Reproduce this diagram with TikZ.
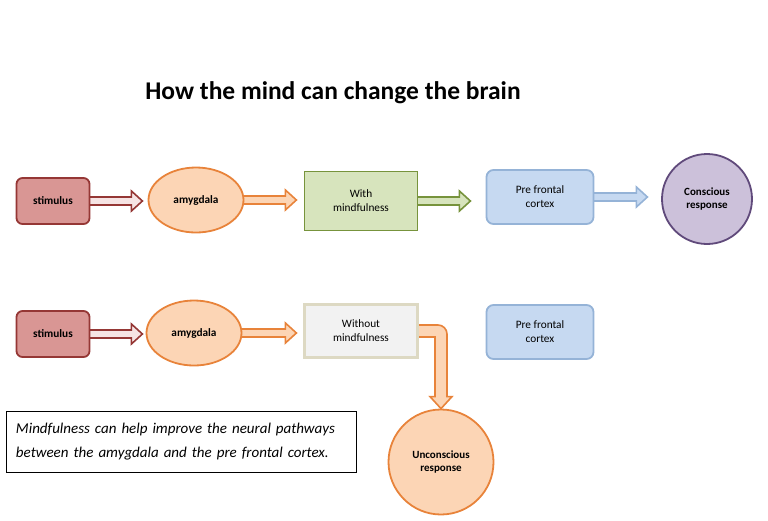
\documentclass[tikz,border=0pt]{standalone}
\usepackage{fontspec}
\setmainfont{Carlito}
\usetikzlibrary{shapes.geometric, calc, positioning, backgrounds}

\definecolor{stimfill}{HTML}{D99694}
\definecolor{stimline}{HTML}{953735}
\definecolor{stimpale}{HTML}{F6E4E4}
\definecolor{amyfill}{HTML}{FCD5B5}
\definecolor{amyline}{HTML}{E8833A}
\definecolor{withfill}{HTML}{D7E4BD}
\definecolor{withline}{HTML}{77933C}
\definecolor{pfcfill}{HTML}{C6D9F1}
\definecolor{pfcline}{HTML}{95B3D7}
\definecolor{consfill}{HTML}{CCC1DA}
\definecolor{consline}{HTML}{604A7B}
\definecolor{wofill}{HTML}{F2F2F2}
\definecolor{woline}{HTML}{DDD9C3}

% block arrow: style, start anchor, length
\newcommand{\blockarrow}[3]{%
  \draw[#1] ($(#2)+(-3,4)$) -- ($(#2)+(#3-11,4)$) -- ($(#2)+(#3-11,10)$)
    -- ($(#2)+(#3,0)$) -- ($(#2)+(#3-11,-10)$) -- ($(#2)+(#3-11,-4)$)
    -- ($(#2)+(-3,-4)$) -- cycle;}

\begin{document}
\begin{tikzpicture}[x=1pt, y=-1pt,
    stim/.style={rounded corners=6pt, fill=stimfill, draw=stimline,
      minimum width=73pt, minimum height=46pt},
    amyg/.style={ellipse, fill=amyfill, draw=amyline,
      minimum width=95pt, minimum height=65pt},
    pfc/.style={rounded corners=7pt, fill=pfcfill, draw=pfcline,
      minimum width=107pt, minimum height=54pt},
    resp/.style={circle, font=\fontsize{11}{13.5}\selectfont\bfseries}]
\useasboundingbox (0,0) rectangle (768,520);

\node[font=\fontsize{25.5}{30}\selectfont\bfseries] (title) at (333,93)
  {How the mind can change the brain};

\begin{scope}[every node/.style={draw, align=center, inner sep=0pt,
    line width=1.8pt, font=\fontsize{11.3}{14}\selectfont}]
    \node[stim] (s1) at (53,201) {\textbf{stimulus}};
    \node[amyg] (a1) at (196,200) {\textbf{amygdala}};
    \node[fill=withfill, draw=withline, minimum width=113pt,
      minimum height=59pt] (w1) at (361,201) {With\\mindfulness};
    \node[pfc] (p1) at (540,197) {Pre frontal\\cortex};
    \node[resp, fill=consfill, draw=consline, minimum size=90pt]
      (c1) at (707,199) {Conscious\\response};
    \node[stim] (s2) at (53,334) {\textbf{stimulus}};
    \node[amyg] (a2) at (194,333) {\textbf{amygdala}};
    \node[fill=wofill, draw=woline, line width=2.5pt, minimum width=113pt,
      minimum height=53pt] (w2) at (361,331) {Without\\mindfulness};
    \node[pfc] (p2) at (540,332) {Pre frontal\\cortex};
    \node[resp, fill=amyfill, draw=amyline, minimum size=105pt]
      (c2) at (441,462) {Unconscious\\response};
    \node[line width=0.8pt, align=left, inner xsep=10pt, inner ysep=0pt,
      text width=330pt, minimum height=61pt,
      font=\fontsize{15}{24}\selectfont\itshape] (note) at (181,442)
      {Mindfulness can help improve the neural pathways\\
       between the amygdala and the pre frontal cortex.};
\end{scope}

\begin{pgfonlayer}{background}
\begin{scope}[line width=1.6pt, line join=miter]
    \blockarrow{draw=stimline, fill=stimpale}{s1.east}{52}
    \blockarrow{draw=amyline, fill=amyfill}{a1.east}{52}
    \blockarrow{draw=withline, fill=withfill}{w1.east}{52}
    \blockarrow{draw=pfcline, fill=pfcfill}{p1.east}{53}
    \blockarrow{draw=stimline, fill=stimpale}{s2.east}{52}
    \blockarrow{draw=amyline, fill=amyfill}{a2.east}{54}
    % bent arrow down to the unconscious response
    \coordinate (bend) at (w2.east -| c2.north);
    \draw[draw=amyline, fill=amyfill]
      ($(w2.east)+(-3,-6)$) [rounded corners=9pt] -- ($(bend)+(6,-6)$)
      [sharp corners] -- ($(c2.north)+(6,-12)$) -- ($(c2.north)+(11,-12)$)
      -- (c2.north) -- ($(c2.north)+(-11,-12)$) -- ($(c2.north)+(-6,-12)$)
      -- ($(bend)+(-6,6)$) -- ($(w2.east)+(-3,6)$) -- cycle;
\end{scope}
\end{pgfonlayer}
\end{tikzpicture}
\end{document}
